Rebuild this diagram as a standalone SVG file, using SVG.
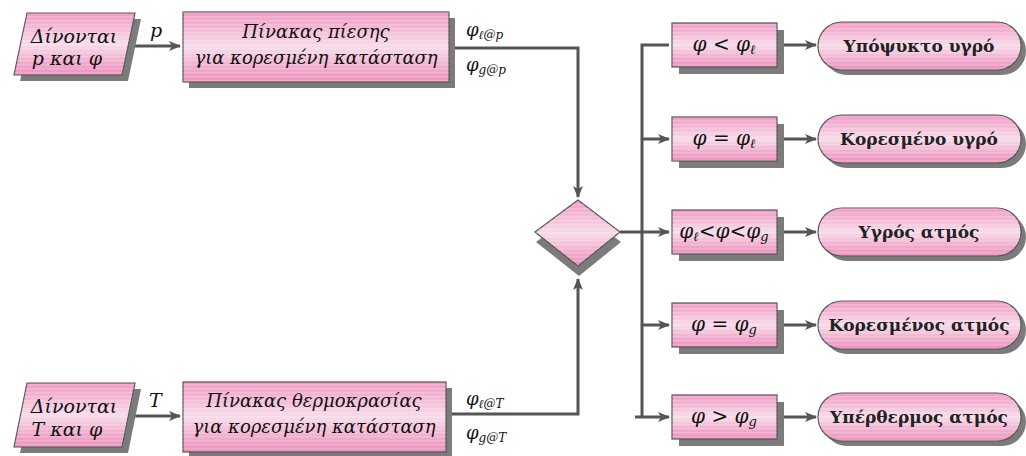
<svg xmlns="http://www.w3.org/2000/svg" width="1026" height="456" viewBox="0 0 1026 456" font-family="'DejaVu Serif', 'Liberation Serif', serif">
<defs>
  <linearGradient id="pink" x1="0" y1="0" x2="0" y2="1">
    <stop offset="0" stop-color="#f19cc6"/>
    <stop offset="0.2" stop-color="#f3b4d2"/>
    <stop offset="0.5" stop-color="#f7dce9"/>
    <stop offset="0.8" stop-color="#f0aacb"/>
    <stop offset="1" stop-color="#ec92be"/>
  </linearGradient>
  <pattern id="stripes" width="8" height="4" patternUnits="userSpaceOnUse">
    <rect x="0" y="0" width="8" height="1.5" fill="#ffffff" fill-opacity="0.18"/>
  </pattern>
  <marker id="arr" viewBox="0 0 12 10" refX="11" refY="5" markerWidth="12" markerHeight="10" markerUnits="userSpaceOnUse" orient="auto">
    <path d="M0,0 L12,5 L0,10 L3,5 z" fill="#555"/>
  </marker>
  <style>
    .sh { fill: #7b7b7b; }
    .bx { fill: url(#pink); stroke: #555; stroke-width: 1.2; }
    .st { fill: url(#stripes); stroke: none; }
    .it { font-family: 'DejaVu Serif', 'Liberation Serif', serif; font-style: italic; fill: #111; }
    .bd { font-family: 'DejaVu Serif', 'Liberation Serif', serif; font-weight: bold; fill: #222; font-size: 17px; }
    .ln { fill: none; stroke: #555; stroke-width: 3; }
  </style>
</defs>
<rect width="1026" height="456" fill="#ffffff"/>

<g id="connectors">
  <line class="ln" x1="134" y1="46" x2="180" y2="46" marker-end="url(#arr)"/>
  <line class="ln" x1="134" y1="416" x2="180" y2="416" marker-end="url(#arr)"/>
  <polyline class="ln" points="455,48 578,48 578,197" marker-end="url(#arr)"/>
  <polyline class="ln" points="452,414 578,414 578,279" marker-end="url(#arr)"/>
  <line class="ln" x1="620" y1="232" x2="669" y2="232" marker-end="url(#arr)"/>
  <polyline class="ln" points="669,45 642,45 642,417"/>
  <line class="ln" x1="635" y1="417" x2="669" y2="417" marker-end="url(#arr)"/>
  <line class="ln" x1="642" y1="139" x2="669" y2="139" marker-end="url(#arr)"/>
  <line class="ln" x1="642" y1="325" x2="669" y2="325" marker-end="url(#arr)"/>
  <line class="ln" x1="784" y1="45" x2="816" y2="45" marker-end="url(#arr)"/>
  <line class="ln" x1="784" y1="139" x2="816" y2="139" marker-end="url(#arr)"/>
  <line class="ln" x1="784" y1="232" x2="816" y2="232" marker-end="url(#arr)"/>
  <line class="ln" x1="784" y1="325" x2="816" y2="325" marker-end="url(#arr)"/>
  <line class="ln" x1="784" y1="417" x2="816" y2="417" marker-end="url(#arr)"/>
  <text class="it" x="150" y="37" font-size="19">p</text>
  <text class="it" x="149" y="407" font-size="19">T</text>
  <text class="it" x="466" y="36" font-size="18">φ<tspan font-size="12" dy="3">ℓ@p</tspan></text>
  <text class="it" x="466" y="71" font-size="18">φ<tspan font-size="12" dy="3">g@p</tspan></text>
  <text class="it" x="466" y="405" font-size="18">φ<tspan font-size="12" dy="3">ℓ@T</tspan></text>
  <text class="it" x="466" y="439" font-size="18">φ<tspan font-size="12" dy="3">g@T</tspan></text>
</g>

<g id="input-p">
  <polygon class="sh" points="33,19 141,19 128,81 20,81"/>
  <polygon class="bx" points="27,13 135,13 122,75 14,75"/>
  <polygon class="st" points="27,13 135,13 122,75 14,75"/>
  <text class="it" x="74" y="43" font-size="19" text-anchor="middle">Δίνονται</text>
  <text class="it" x="67" y="65" font-size="19" text-anchor="middle">p και φ</text>
</g>

<g id="input-T">
  <polygon class="sh" points="33,389 141,389 128,453 20,453"/>
  <polygon class="bx" points="27,383 135,383 122,447 14,447"/>
  <polygon class="st" points="27,383 135,383 122,447 14,447"/>
  <text class="it" x="74" y="413" font-size="19" text-anchor="middle">Δίνονται</text>
  <text class="it" x="67" y="436" font-size="19" text-anchor="middle">T και φ</text>
</g>

<g id="table-p">
  <rect class="sh" x="189" y="18" width="266" height="70"/>
  <rect class="bx" x="183" y="12" width="266" height="70"/>
  <rect class="st" x="183" y="12" width="266" height="70"/>
  <text class="it" x="316" y="38" font-size="18" text-anchor="middle">Πίνακας πίεσης</text>
  <text class="it" x="316" y="64" font-size="18" text-anchor="middle">για κορεσμένη κατάσταση</text>
</g>

<g id="table-T">
  <rect class="sh" x="189" y="388" width="263" height="70"/>
  <rect class="bx" x="183" y="382" width="263" height="70"/>
  <rect class="st" x="183" y="382" width="263" height="70"/>
  <text class="it" x="314" y="407" font-size="18" text-anchor="middle">Πίνακας θερμοκρασίας</text>
  <text class="it" x="314" y="433" font-size="18" text-anchor="middle">για κορεσμένη κατάσταση</text>
</g>

<g id="decision">
  <polygon class="sh" points="579,210 621,242 579,276 536,242"/>
  <polygon class="bx" points="578,200 620,232 578,266 535,232"/>
  <polygon class="st" points="578,200 620,232 578,266 535,232"/>
</g>

<g id="cond1">
  <rect class="sh" x="679" y="30" width="105" height="44"/>
  <rect class="bx" x="672" y="23" width="105" height="44"/>
  <rect class="st" x="672" y="23" width="105" height="44"/>
  <text class="it" x="724" y="51" font-size="20" text-anchor="middle">φ <tspan font-style="normal">&lt;</tspan> φ<tspan font-size="13" dy="3">ℓ</tspan></text>
</g>
<g id="cond2">
  <rect class="sh" x="679" y="124" width="105" height="44"/>
  <rect class="bx" x="672" y="117" width="105" height="44"/>
  <rect class="st" x="672" y="117" width="105" height="44"/>
  <text class="it" x="724" y="145" font-size="20" text-anchor="middle">φ <tspan font-style="normal">=</tspan> φ<tspan font-size="13" dy="3">ℓ</tspan></text>
</g>
<g id="cond3">
  <rect class="sh" x="679" y="217" width="105" height="44"/>
  <rect class="bx" x="672" y="210" width="105" height="44"/>
  <rect class="st" x="672" y="210" width="105" height="44"/>
  <text class="it" x="724" y="238" font-size="20" text-anchor="middle">φ<tspan font-size="13" dy="3">ℓ</tspan><tspan dy="-3" font-style="normal">&lt;</tspan>φ<tspan font-style="normal">&lt;</tspan>φ<tspan font-size="13" dy="3">g</tspan></text>
</g>
<g id="cond4">
  <rect class="sh" x="679" y="310" width="105" height="44"/>
  <rect class="bx" x="672" y="303" width="105" height="44"/>
  <rect class="st" x="672" y="303" width="105" height="44"/>
  <text class="it" x="724" y="331" font-size="20" text-anchor="middle">φ <tspan font-style="normal">=</tspan> φ<tspan font-size="13" dy="3">g</tspan></text>
</g>
<g id="cond5">
  <rect class="sh" x="679" y="402" width="105" height="44"/>
  <rect class="bx" x="672" y="395" width="105" height="44"/>
  <rect class="st" x="672" y="395" width="105" height="44"/>
  <text class="it" x="724" y="423" font-size="20" text-anchor="middle">φ <tspan font-style="normal">&gt;</tspan> φ<tspan font-size="13" dy="3">g</tspan></text>
</g>

<g id="state1">
  <rect class="sh" x="823" y="27" width="203" height="48" rx="24"/>
  <rect class="bx" x="818" y="22" width="203" height="48" rx="24"/>
  <rect class="st" x="818" y="22" width="203" height="48" rx="24"/>
  <text class="bd" x="919" y="52" text-anchor="middle">Υπόψυκτο υγρό</text>
</g>
<g id="state2">
  <rect class="sh" x="823" y="120" width="203" height="48" rx="24"/>
  <rect class="bx" x="818" y="115" width="203" height="48" rx="24"/>
  <rect class="st" x="818" y="115" width="203" height="48" rx="24"/>
  <text class="bd" x="919" y="145" text-anchor="middle">Κορεσμένο υγρό</text>
</g>
<g id="state3">
  <rect class="sh" x="823" y="213" width="203" height="48" rx="24"/>
  <rect class="bx" x="818" y="208" width="203" height="48" rx="24"/>
  <rect class="st" x="818" y="208" width="203" height="48" rx="24"/>
  <text class="bd" x="919" y="238" text-anchor="middle">Υγρός ατμός</text>
</g>
<g id="state4">
  <rect class="sh" x="823" y="306" width="203" height="48" rx="24"/>
  <rect class="bx" x="818" y="301" width="203" height="48" rx="24"/>
  <rect class="st" x="818" y="301" width="203" height="48" rx="24"/>
  <text class="bd" x="919" y="331" text-anchor="middle">Κορεσμένος ατμός</text>
</g>
<g id="state5">
  <rect class="sh" x="823" y="398" width="203" height="48" rx="24"/>
  <rect class="bx" x="818" y="393" width="203" height="48" rx="24"/>
  <rect class="st" x="818" y="393" width="203" height="48" rx="24"/>
  <text class="bd" x="919" y="423" text-anchor="middle">Υπέρθερμος ατμός</text>
</g>
</svg>
